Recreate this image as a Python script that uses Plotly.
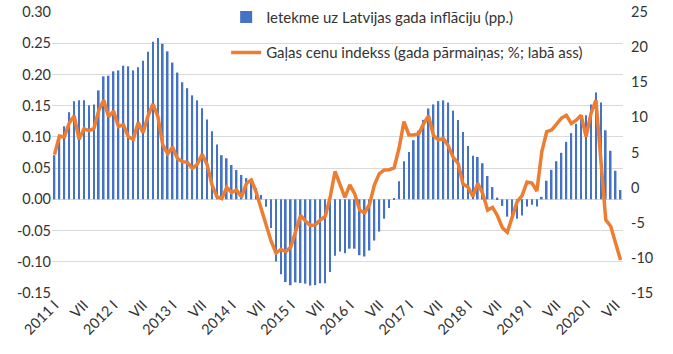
import plotly.graph_objects as go

# ---- categories (monthly, 2011 I .. 2020 VIII) ----
months = [f"{y}-{m:02d}" for y in range(2011, 2021) for m in range(1, 13)][:116]

# ---- bar series: impact on Latvian annual inflation (pp.), left axis ----
impact = [
    0.0707, 0.1005, 0.117, 0.1395, 0.157, 0.1585, 0.1585, 0.1505, 0.152, 0.1745, 0.197, 0.198,
    0.205, 0.2065, 0.214, 0.213, 0.2065, 0.2115, 0.222, 0.2365, 0.2525, 0.2585, 0.249, 0.237,
    0.219, 0.203, 0.1875, 0.178, 0.1665, 0.1585, 0.146, 0.128, 0.109, 0.088, 0.0707, 0.0657,
    0.055, 0.047, 0.039, 0.034, 0.030, 0.018, 0.007, -0.012, -0.046, -0.0995, -0.12, -0.1325,
    -0.1375, -0.133, -0.134, -0.135, -0.138, -0.1375, -0.1345, -0.1345, -0.1165, -0.0905, -0.0835, -0.0865,
    -0.079, -0.079, -0.0895, -0.0915, -0.082, -0.066, -0.0516, -0.031, -0.0138, 0.002, 0.029, 0.061,
    0.076, 0.0947, 0.1098, 0.1273, 0.1455, 0.152, 0.1573, 0.1585, 0.155, 0.142, 0.127, 0.108,
    0.0855, 0.0697, 0.0678, 0.0578, 0.0374, 0.0197, 0.0027, -0.0106, -0.0277, -0.034, -0.031, -0.026,
    -0.0115, -0.0088, -0.0115, 0.004, 0.0298, 0.0473, 0.061, 0.0745, 0.092, 0.106, 0.121, 0.129,
    0.1346, 0.152, 0.171, 0.155, 0.1106, 0.0777, 0.0457, 0.0149,
]

# ---- line series: meat price index, annual change %, right axis ----
meat_index = [
    4.7, 7.34, 7.2, 9.2, 10.2, 6.87, 8.38, 8.1, 8.4, 11.0, 12.45, 10.1,
    10.9, 8.7, 8.95, 7.25, 6.87, 9.25, 7.83, 10.2, 11.9, 10.15, 6.07, 4.83,
    5.77, 4.1, 3.7, 3.6, 2.75, 3.3, 4.75, 3.3, 0.4, -1.3, -1.55, 0.05,
    -0.7, -0.33, -1.35, 0.6, 1.1, -0.7, -3.0, -5.3, -7.6, -9.3, -8.8, -9.1,
    -8.45, -6.25, -3.95, -4.75, -5.4, -5.3, -4.6, -4.1, -1.4, 2.3, 0.4, -1.4,
    0.4, -0.9, -3.2, -3.6, -2.4, 0.4, 2.0, 2.5, 2.55, 2.8, 5.6, 9.4,
    7.5, 7.5, 7.65, 9.1, 10.2, 7.4, 6.8, 7.0, 5.95, 4.3, 3.46, 0.5,
    0.1, -1.25, 0.6, -0.85, -3.2, -2.8, -4.0, -5.7, -6.35, -4.2, -2.0, -1.15,
    0.8, 0.65, -0.5, 5.1, 7.96, 8.2, 9.0, 9.9, 10.3, 9.14, 9.6, 10.3,
    7.25, 10.56, 12.45, 3.5, -4.6, -5.5, -7.9, -10.3,
]

# ---- axis tick labels ----
x_tick_labels = ["2011 I", "VII", "2012 I", "VII", "2013 I", "VII", "2014 I", "VII",
                 "2015 I", "VII", "2016 I", "VII", "2017 I", "VII", "2018 I", "VII",
                 "2019 I", "VII", "2020 I", "VII"]
x_tick_vals = months[::6]
left_ticks = [0.30, 0.25, 0.20, 0.15, 0.10, 0.05, 0.0, -0.05, -0.10, -0.15]
left_tick_labels = ["0.30", "0.25", "0.20", "0.15", "0.10", "0.05", "0.00", "-0.05", "-0.10", "-0.15"]
right_ticks = [25, 20, 15, 10, 5, 0, -5, -10, -15]
right_tick_labels = ["25", "20", "15", "10", "5", "0", "-5", "-10", "-15"]

bar_name = "Ietekme uz Latvijas gada inflāciju (pp.)"
line_name = "Gaļas cenu indekss (gada pārmaiņas; %; labā ass)"

FONT = "Lato"
TXT = "#333333"
TICK = dict(family=FONT, size=14.5, color=TXT)

fig = go.Figure()
fig.add_trace(go.Bar(
    x=months, y=impact, name=bar_name, marker=dict(color="#4472C4", line=dict(width=0)),
    yaxis="y", legendgroup="a",
))
fig.add_trace(go.Scatter(
    x=months, y=meat_index, name=line_name, mode="lines",
    line=dict(color="#ED7D31", width=3.5), yaxis="y2", legendgroup="b",
))

fig.update_layout(
    width=673, height=354,
    margin=dict(l=52, r=50, t=12, b=61, autoexpand=False),
    paper_bgcolor="white", plot_bgcolor="white",
    font=dict(family=FONT, size=15, color=TXT),
    bargap=0.66,
    showlegend=True,
    legend=dict(
        x=0.305, y=1.04, xanchor="left", yanchor="top",
        bgcolor="rgba(0,0,0,0)", font=dict(family=FONT, size=15, color=TXT),
        tracegroupgap=13, itemwidth=30,
    ),
    xaxis=dict(
        type="category", tickmode="array", tickvals=x_tick_vals, ticktext=x_tick_labels,
        tickangle=-45, showgrid=False, showline=False, ticks="", zeroline=False, automargin=False,
        range=[-0.5, len(months) - 0.5], tickfont=TICK,
    ),
    yaxis=dict(
        range=[-0.15, 0.30], tickmode="array", tickvals=left_ticks, ticktext=left_tick_labels,
        showgrid=True, gridcolor="#D9D9D9", gridwidth=1, zeroline=True, zerolinecolor="#D9D9D9",
        zerolinewidth=1, showline=False, ticks="", automargin=False, tickfont=TICK,
    ),
    yaxis2=dict(
        range=[-15, 25], overlaying="y", side="right", tickmode="array",
        tickvals=right_ticks, ticktext=right_tick_labels, showgrid=False, zeroline=False,
        showline=False, ticks="", automargin=False, tickfont=TICK, ticklabelstandoff=7,
    ),
)

fig.write_html("out.html")
